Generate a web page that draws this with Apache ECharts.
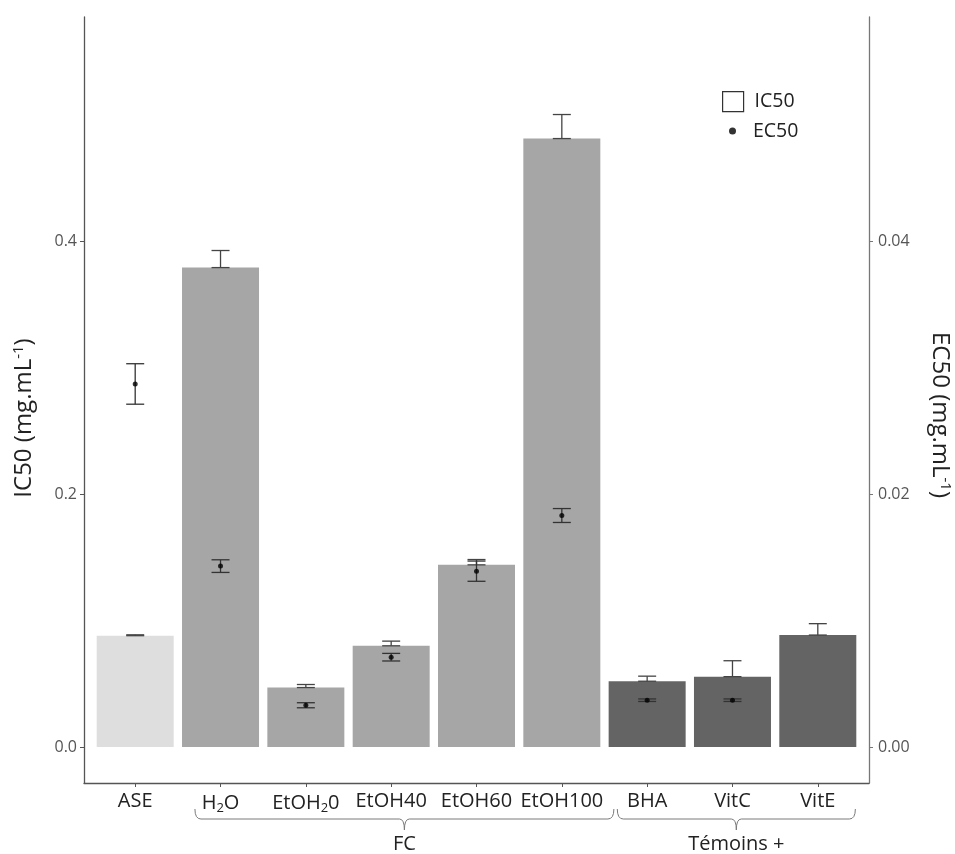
<!DOCTYPE html>
<html><head><meta charset="utf-8">
<script src="https://cdn.jsdelivr.net/npm/echarts@6/dist/echarts.min.js"></script>
<style>html,body{margin:0;padding:0;background:#fff;overflow:hidden}#c{width:955px;height:854px}</style>
</head><body><div id="c"></div>
<script>
// ---- data ----
const categories = ['ASE', 'H2O', 'EtOH20', 'EtOH40', 'EtOH60', 'EtOH100', 'BHA', 'VitC', 'VitE'];
const categoryLabels = ['ASE', 'H{sub|2}O', 'EtOH{sub|2}0', 'EtOH40', 'EtOH60', 'EtOH100', 'BHA', 'VitC', 'VitE'];
const groups = ['ASE', 'FC', 'FC', 'FC', 'FC', 'FC', 'Témoins +', 'Témoins +', 'Témoins +'];
const ic50 = [0.088, 0.379, 0.047, 0.080, 0.144, 0.481, 0.052, 0.0556, 0.0885];
const ic50Err = [0.0007, 0.0135, 0.0024, 0.0037, 0.0042, 0.019, 0.004, 0.0126, 0.009];
const ec50 = [0.0287, 0.0143, 0.0033, 0.0071, 0.0139, 0.0183, 0.0037, 0.0037, null];
const ec50Err = [0.0016, 0.0005, 0.0002, 0.0003, 0.0008, 0.00055, 0.0001, 0.0001, null];
const leftTicks = [0, 0.2, 0.4];
const leftTickLabels = ['0.0', '0.2', '0.4'];
const rightTicks = [0, 0.02, 0.04];
const rightTickLabels = ['0.00', '0.02', '0.04'];
const bracketLabels = ['FC', 'Témoins +'];
const bracketFrom = [1.70, 6.65];
const bracketTo = [6.61, 9.44];

// ---- styles ----
const FONT = 'Open Sans';
const groupColors = { 'ASE': '#dedede', 'FC': '#a6a6a6', 'Témoins +': '#646464' };
const positions = categories.map((c, i) => i + 1);

const chart = echarts.init(document.getElementById('c'), null, { width: 955, height: 854 });

function errRender(color, halfCap) {
  return function (params, api) {
    const x = api.value(0), lo = api.value(1), hi = api.value(2);
    const a = api.coord([x, lo]), b = api.coord([x, hi]);
    const style = { stroke: color, lineWidth: 1.3 };
    return {
      type: 'group',
      children: [
        { type: 'line', shape: { x1: a[0], y1: a[1], x2: b[0], y2: b[1] }, style: style },
        { type: 'line', shape: { x1: a[0] - halfCap, y1: a[1], x2: a[0] + halfCap, y2: a[1] }, style: style },
        { type: 'line', shape: { x1: b[0] - halfCap, y1: b[1], x2: b[0] + halfCap, y2: b[1] }, style: style }
      ]
    };
  };
}

function bracketRender(params, api) {
  const i = params.dataIndex;
  const x0 = api.coord([api.value(0), 0])[0];
  const x1 = api.coord([api.value(1), 0])[0];
  const base = params.coordSys.y + params.coordSys.height;
  const yTop = base + 26, yLine = base + 36, yTip = base + 47, yLabel = base + 61;
  const cx = (x0 + x1) / 2;
  const d = `M${x0} ${yTop} Q${x0} ${yLine} ${x0 + 6} ${yLine} L${cx - 5} ${yLine} Q${cx} ${yLine} ${cx} ${yTip}` +
            ` M${cx} ${yTip} Q${cx} ${yLine} ${cx + 5} ${yLine} L${x1 - 6} ${yLine} Q${x1} ${yLine} ${x1} ${yTop}`;
  return {
    type: 'group',
    children: [
      { type: 'path', shape: { pathData: d }, style: { stroke: '#7a7a7a', lineWidth: 1, fill: null } },
      { type: 'text', x: cx, y: yLabel, style: { text: bracketLabels[i], font: '20px "Open Sans"', fill: '#222', align: 'center', verticalAlign: 'middle' } }
    ]
  };
}

const barData = ic50.map((v, i) => ({ value: [positions[i], v], itemStyle: { color: groupColors[groups[i]] } }));
const ic50ErrData = ic50.map((v, i) => [positions[i], v, v + ic50Err[i]]);
const ec50Data = [];
const ec50ErrData = [];
ec50.forEach((v, i) => {
  if (v == null) return;
  ec50Data.push([positions[i], v]);
  ec50ErrData.push([positions[i], v - ec50Err[i], v + ec50Err[i]]);
});
const bracketData = bracketLabels.map((l, i) => [bracketFrom[i], bracketTo[i], 0]);

const axisLineStyle = { color: '#555', width: 1.3 };

chart.setOption({
  animation: false,
  backgroundColor: '#ffffff',
  textStyle: { fontFamily: FONT },
  grid: { left: 84, right: 86, top: 17, bottom: 71, containLabel: false, outerBoundsMode: 'none' },
  legend: [
    {
      data: [{ name: 'IC50', icon: 'rect', itemStyle: { color: '#ffffff', borderColor: '#333', borderWidth: 1.2 } }],
      left: 722, top: 91, padding: 0, itemWidth: 21, itemHeight: 20, itemGap: 0,
      textStyle: { fontFamily: FONT, fontSize: 19.5, color: '#222', padding: [0, 0, 0, 6] },
      selectedMode: false
    },
    {
      data: [{ name: 'EC50', icon: 'circle', itemStyle: { color: '#000' } }],
      left: 729, top: 121, padding: 0, itemWidth: 7, itemHeight: 7, itemGap: 0,
      textStyle: { fontFamily: FONT, fontSize: 19.5, color: '#222', padding: [0, 0, 0, 12] },
      selectedMode: false
    }
  ],
  xAxis: {
    type: 'value', min: 0.4, max: 9.6,
    axisLine: { show: true, onZero: false, lineStyle: axisLineStyle },
    axisTick: { show: true, length: 4, lineStyle: { color: '#555' }, customValues: positions },
    axisLabel: {
      customValues: positions, margin: 8, color: '#222', fontSize: 20, fontFamily: FONT,
      formatter: v => categoryLabels[Math.round(v) - 1],
      rich: { sub: { fontSize: 13, fontFamily: FONT, color: '#222', padding: [11, 0, 0, 0] } }
    },
    splitLine: { show: false }
  },
  yAxis: [
    {
      type: 'value', min: -0.02846, max: 0.5771, position: 'left',
      name: 'IC50 (mg.mL{sup|-1})', nameLocation: 'middle', nameRotate: 90, nameGap: 46,
      nameTextStyle: { fontSize: 24, color: '#222', fontFamily: FONT, padding: [0, 36, 0, 0],
        rich: { sup: { fontSize: 15, fontFamily: FONT, color: '#222', padding: [0, 0, 12, 0] } } },
      axisLine: { show: true, lineStyle: axisLineStyle },
      axisTick: { show: true, length: 4, lineStyle: { color: '#555' }, customValues: leftTicks },
      axisLabel: { customValues: leftTicks, margin: 7, color: '#555', fontSize: 16, fontFamily: FONT,
        formatter: v => leftTickLabels[leftTicks.findIndex(t => Math.abs(t - v) < 1e-9)] },
      splitLine: { show: false }
    },
    {
      type: 'value', min: -0.002846, max: 0.05771, position: 'right',
      name: 'EC50 (mg.mL{sup|-1})', nameLocation: 'middle', nameRotate: -90, nameGap: 57,
      nameTextStyle: { fontSize: 24, color: '#222', fontFamily: FONT, padding: [0, 0, 0, 30],
        rich: { sup: { fontSize: 15, fontFamily: FONT, color: '#222', padding: [0, 0, 12, 0] } } },
      axisLine: { show: true, lineStyle: { color: '#777', width: 1.3 } },
      axisTick: { show: true, length: 4, lineStyle: { color: '#777' }, customValues: rightTicks },
      axisLabel: { customValues: rightTicks, margin: 9, color: '#555', fontSize: 16, fontFamily: FONT,
        formatter: v => rightTickLabels[rightTicks.findIndex(t => Math.abs(t - v) < 1e-9)] },
      splitLine: { show: false }
    }
  ],
  series: [
    {
      name: 'IC50', type: 'bar', xAxisIndex: 0, yAxisIndex: 0, barWidth: 77,
      data: barData, z: 2
    },
    {
      name: 'IC50err', type: 'custom', xAxisIndex: 0, yAxisIndex: 0,
      renderItem: errRender('#444', 9), encode: { x: 0, y: [1, 2] }, data: ic50ErrData, z: 3
    },
    {
      name: 'EC50err', type: 'custom', xAxisIndex: 0, yAxisIndex: 1,
      renderItem: errRender('#333', 9), encode: { x: 0, y: [1, 2] }, data: ec50ErrData, z: 4
    },
    {
      name: 'EC50', type: 'scatter', xAxisIndex: 0, yAxisIndex: 1, symbolSize: 5,
      itemStyle: { color: '#000' }, data: ec50Data, z: 5
    },
    {
      name: 'groups', type: 'custom', xAxisIndex: 0, yAxisIndex: 0, clip: false,
      renderItem: bracketRender, encode: { x: [0, 1], y: 2 }, data: bracketData, z: 1, silent: true
    }
  ]
});
</script>
</body></html>
